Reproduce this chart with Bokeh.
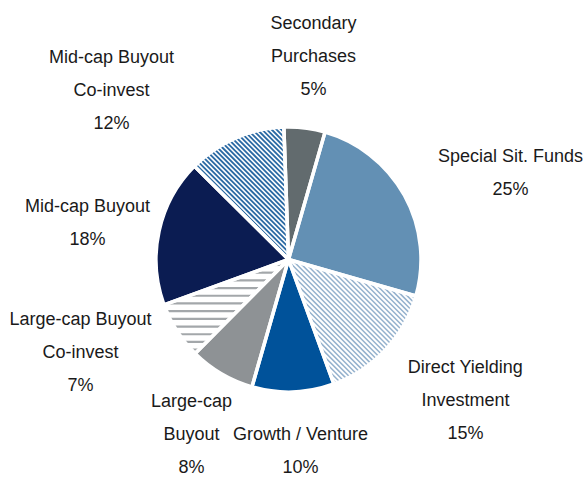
import math
from bokeh.plotting import figure
from bokeh.models import ColumnDataSource, Range1d
from bokeh.core.properties import value
from bokeh.embed import file_html
from bokeh.resources import INLINE

# ---- data ----
categories = ["Secondary Purchases", "Special Sit. Funds", "Direct Yielding Investment",
              "Growth / Venture", "Large-cap Buyout", "Large-cap Buyout Co-invest",
              "Mid-cap Buyout", "Mid-cap Buyout Co-invest"]
shares = [5, 25, 15, 10, 8, 7, 18, 12]
label_lines = [["Secondary", "Purchases"], ["Special Sit. Funds"], ["Direct Yielding", "Investment"],
               ["Growth / Venture"], ["Large-cap", "Buyout"], ["Large-cap Buyout", "Co-invest"],
               ["Mid-cap Buyout"], ["Mid-cap Buyout", "Co-invest"]]

# ---- style ----
fills = ["#626B6E", "#6390B4", "white", "#00529A", "#8E9295", "white", "#0B1C52", "white"]
# stripe style: (direction in screen terms, color, period px, width px) or None
stripe_style = [None, None, ("\\", "#94B1CD", 3.5, 1.5), None, None,
                ("-", "#A3A7AA", 7.7, 2.2), None, ("\\", "#2A69A3", 3.4, 1.8)]
# label anchors (screen px: center x, first line y)
label_pos = [(313, 22), (510, 155), (465, 366), (300, 433), (191, 400), (80, 318), (87, 205), (111, 56)]
LINE_H = 33.2

W, H = 587, 480
p = figure(width=W, height=H, output_backend="svg", toolbar_location=None,
           x_range=Range1d(0, W), y_range=Range1d(480 - H, 480),
           min_border=0)
p.axis.visible = False
p.grid.visible = False
p.outline_line_color = None
p.background_fill_color = "white"
p.border_fill_color = "white"

cx, cy, r = 288, 480 - 259, 132.5
start0 = math.radians(92)
total = sum(shares)
starts, ends = [], []
a = start0
for s in shares:
    starts.append(a)
    a -= s / total * 2 * math.pi
    ends.append(a)

src = ColumnDataSource(dict(start=starts, end=ends, fill=fills))
p.wedge(x=cx, y=cy, radius=r, start_angle="start", end_angle="end", direction="clock",
        fill_color="fill", line_color=None, source=src)


def cross(u, v):
    return u[0] * v[1] - u[1] * v[0]


def stripe_segments(a1, a2, d, period):
    nvec = (-d[1], d[0])
    u1 = (math.cos(a1), math.sin(a1))
    u2 = (math.cos(a2), math.sin(a2))
    xs, ys = [], []
    t = -r + period / 2
    while t < r:
        h = math.sqrt(max(r * r - t * t, 0))
        lo, hi = -h, h
        ok = True
        for u, sign in ((u1, -1), (u2, 1)):
            A = sign * cross(u, d)
            B = sign * t * cross(u, nvec)
            if abs(A) < 1e-12:
                if B < 0:
                    ok = False
            elif A > 0:
                lo = max(lo, -B / A)
            else:
                hi = min(hi, -B / A)
        if ok and lo < hi:
            xs.append([cx + t * nvec[0] + lo * d[0], cx + t * nvec[0] + hi * d[0]])
            ys.append([cy + t * nvec[1] + lo * d[1], cy + t * nvec[1] + hi * d[1]])
        t += period
    return xs, ys


for st, a1, a2 in zip(stripe_style, starts, ends):
    if st is None:
        continue
    kind, col, period, width = st
    if kind == "\\":
        d = (1 / math.sqrt(2), -1 / math.sqrt(2))
    else:
        d = (1.0, 0.0)
    xs, ys = stripe_segments(a1, a2, d, period)
    p.multi_line(xs=xs, ys=ys, line_color=col, line_width=width, line_cap="butt")

# white separators on top
p.wedge(x=cx, y=cy, radius=r, start_angle="start", end_angle="end", direction="clock",
        fill_color=None, line_color="white", line_width=3.5, source=src)

xs, ys, txt = [], [], []
for lines, s, (lx, ly) in zip(label_lines, shares, label_pos):
    for i, t in enumerate(lines + [f"{s}%"]):
        xs.append(lx)
        ys.append(480 - (ly + i * LINE_H))
        txt.append(t)
p.text(x=xs, y=ys, text=txt, text_align="center", text_baseline="middle",
       text_font=value("Liberation Sans"), text_font_size="18px", text_color="#1a1a1a")

open("out.html", "w").write(file_html(p, INLINE))
